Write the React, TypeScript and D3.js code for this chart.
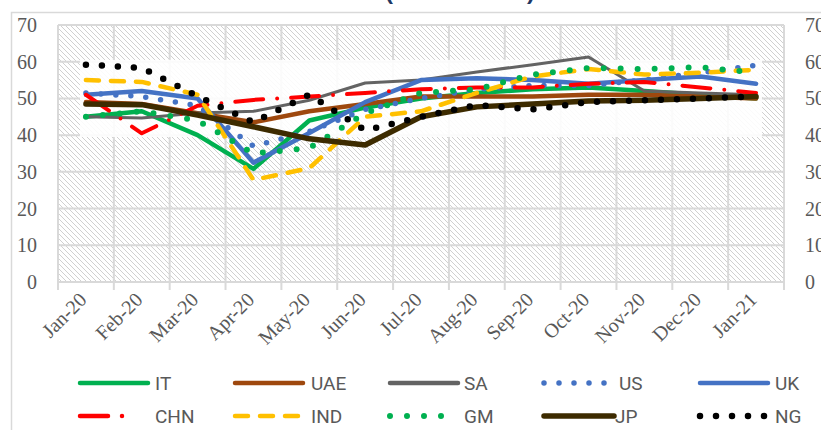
import React from "react";
import * as d3 from "d3";

const months = ["Jan-20","Feb-20","Mar-20","Apr-20","May-20","Jun-20","Jul-20","Aug-20","Sep-20","Oct-20","Nov-20","Dec-20","Jan-21"];
const yTicks = [0,10,20,30,40,50,60,70];

const IT  = [45, 46.5, 40, 30.8, 44, 47.5, 50, 51.5, 52.5, 53, 52, 51, 50];
const UAE = [49, 48.5, 46, 43.5, 46.5, 48.5, 50.5, 50.5, 50.5, 51, 51, 50.5, 50];
const SA  = [45, 44.7, 46, 46.5, 49.5, 54.2, 55, 57.2, 59.2, 61.3, 52, 51.5, 51];
const US  = [51.5, 50.5, 48, 37, 41, 47, 50, 52.5, 53.5, 53.5, 55, 57, 59];
const UK  = [51, 52, 50, 32.5, 40.6, 49, 55, 55.5, 55, 54, 55, 56, 54];
const CHN = [51, 40.5, 48, 49.6, 50.5, 51.5, 52.5, 53, 53, 54, 54.5, 53, 51.5];
const IND = [55, 54.5, 51, 27.8, 31, 45, 46.5, 51.5, 56, 58, 56.5, 57, 57.8];
const GM  = [45, 46.5, 44, 35, 36.5, 46, 51.5, 52.5, 56.5, 58.3, 58, 58.5, 57];
const JP  = [48.5, 48.3, 45.5, 42.3, 39, 37.3, 45, 47.7, 48.5, 49.3, 49.5, 50, 50.5];
const NG  = [59.2, 58.3, 50.6, 43.5, 51, 41.3, 45, 48.2, 47, 49, 49.5, 50, 50.5];

const seriesNames = ["IT","UAE","SA","US","UK","CHN","IND","GM","JP","NG"];
const seriesData = [IT, UAE, SA, US, UK, CHN, IND, GM, JP, NG];

type Style = { color: string; width: number; dash?: string; cap: "round" | "butt" };
const styles: Style[] = [
  { color: "#00B050", width: 4.5, cap: "round" },
  { color: "#9E480E", width: 4.5, cap: "round" },
  { color: "#636363", width: 3, cap: "round" },
  { color: "#4472C4", width: 5.5, dash: "0 15", cap: "round" },
  { color: "#4472C4", width: 4.5, cap: "round" },
  { color: "#FF0000", width: 4, dash: "28 14 0 14", cap: "round" },
  { color: "#FFC000", width: 4.5, dash: "13 12", cap: "round" },
  { color: "#00B050", width: 6, dash: "0 17", cap: "round" },
  { color: "#3D2B00", width: 5.5, cap: "round" },
  { color: "#000000", width: 6.5, dash: "0 16", cap: "round" },
];

const legendCols = [78, 233, 388, 542, 698];
const legendTextX = [155, 311, 464, 619, 775];
const legendRows = [383, 416];

export default function App() {
  const W = 821, H = 430;
  const x = d3.scaleBand<string>().domain(months).range([58, 784]);
  const xc = (m: string) => (x(m) as number) + x.bandwidth() / 2;
  const y = d3.scaleLinear().domain([0, 70]).range([282, 25]);
  const line = d3.line<number>().x((_, i) => xc(months[i])).y((d) => y(d));
  const gridColor = "#d9d9d9";
  const axisFont = "'Liberation Serif', 'DejaVu Serif', serif";
  const boxX0 = xc(months[0]) - 6;
  const boxX1 = xc(months[months.length - 1]) + 6;

  return (
    <svg width={W} height={H} style={{ position: "absolute", left: 0, top: 0, background: "#fff" }}>
      <defs>
        <pattern id="hatch" width="5" height="5" patternUnits="userSpaceOnUse">
          <rect width="5" height="5" fill="#ffffff" />
          <path d="M0,0 L5,5 M-1,4 L1,6 M4,-1 L6,1" stroke="#d0d0d0" strokeWidth="1" />
        </pattern>
      </defs>
      <rect x={0} y={0} width={W} height={H} fill="#fff" />
      {/* title (clipped at top) */}
      <text x={460} y={0} textAnchor="middle" fontFamily="'Open Sans', sans-serif" fontWeight="bold" fontSize={25} fill="#1F3864">(PMI Points)</text>
      {/* outer frame */}
      <rect x={11.5} y={12.5} width={840} height={440} fill="none" stroke={gridColor} strokeWidth={1.5} />
      {/* plot area */}
      <rect x={58} y={25} width={726} height={257} fill="url(#hatch)" />
      {yTicks.map((t) => (
        <line key={"h" + t} x1={58} x2={784} y1={y(t)} y2={y(t)} stroke={gridColor} strokeWidth={2} />
      ))}
      {d3.range(months.length + 1).map((i) => {
        const xx = 58 + i * x.step();
        return <line key={"v" + i} x1={xx} x2={xx} y1={25} y2={290} stroke={gridColor} strokeWidth={2} />;
      })}
      {/* pasted white box behind lines */}
      <rect x={boxX0} y={y(60.5)} width={boxX1 - boxX0} height={y(39.5) - y(60.5)} fill="#ffffff" fillOpacity={0.88} />
      {/* series */}
      {seriesData.map((d, i) => (
        <path key={seriesNames[i]} d={line(d) as string} fill="none" stroke={styles[i].color}
          strokeWidth={styles[i].width} strokeDasharray={styles[i].dash} strokeLinecap={styles[i].cap}
          strokeLinejoin="round" />
      ))}
      {/* y labels left & right */}
      {yTicks.map((t) => (
        <g key={"yl" + t}>
          <text x={37} y={y(t)} dy="0.35em" textAnchor="end" fontFamily={axisFont} fontSize={20} fill="#595959">{t}</text>
          <text x={805} y={y(t)} dy="0.35em" textAnchor="start" fontFamily={axisFont} fontSize={20} fill="#595959">{t}</text>
        </g>
      ))}
      {/* x labels */}
      {months.map((m) => (
        <text key={m} transform={`translate(${xc(m) + 2},${301}) rotate(-45)`} textAnchor="end"
          fontFamily={axisFont} fontSize={20} fill="#595959">{m}</text>
      ))}
      {/* legend */}
      {seriesNames.map((n, i) => {
        const row = Math.floor(i / 5), col = i % 5;
        const lx = legendCols[col], ly = legendRows[row];
        const s = styles[i];
        const len = n === "CHN" ? 56 : n === "JP" ? 72 : 70;
        return (
          <g key={"lg" + n}>
            <line x1={lx + 2} x2={lx + len} y1={ly} y2={ly} stroke={s.color} strokeWidth={Math.max(s.width, 4.5)}
              strokeDasharray={s.dash} strokeLinecap={s.cap} />
            <text x={legendTextX[col] - (n === "JP" ? 4 : 0)} y={ly} dy="0.36em" fontFamily="Roboto, 'Noto Sans', sans-serif"
              fontSize={19} fill="#595959">{n}</text>
          </g>
        );
      })}
    </svg>
  );
}
